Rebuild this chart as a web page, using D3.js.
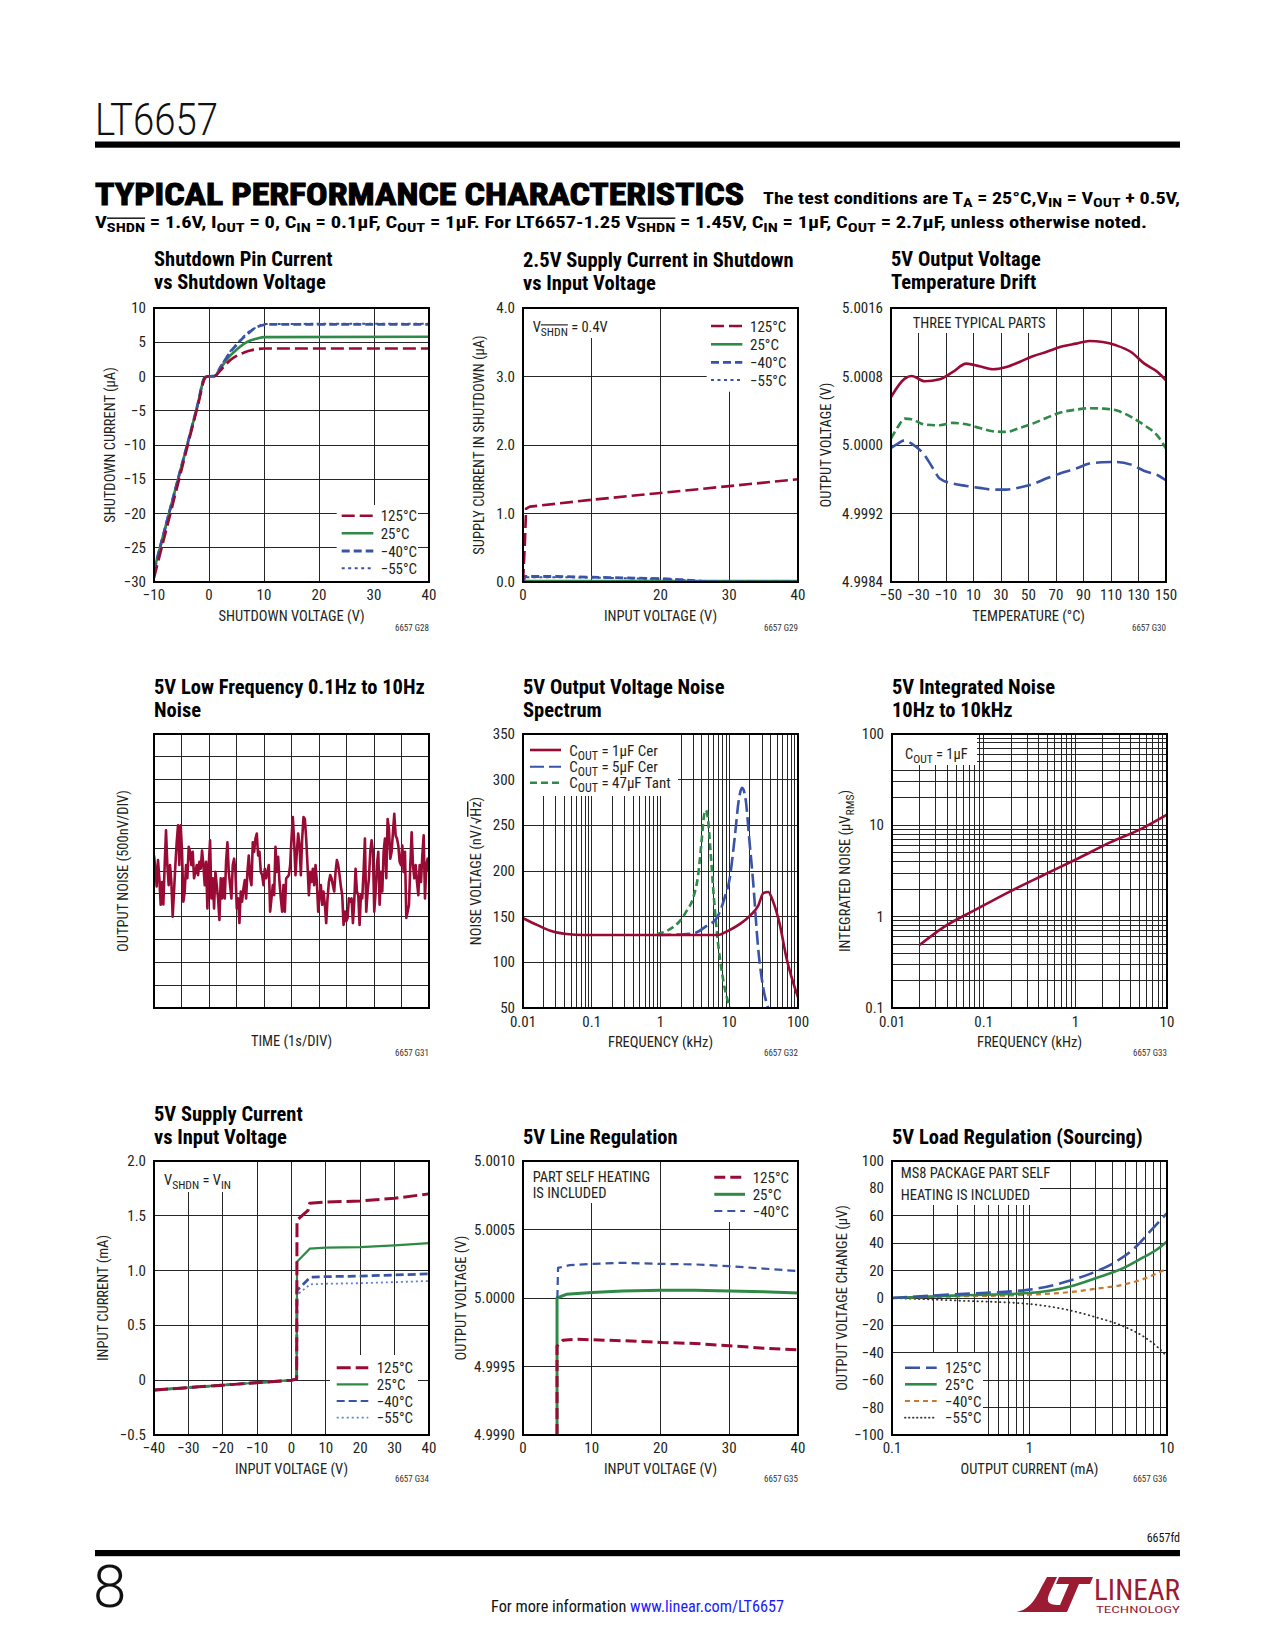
<!DOCTYPE html>
<html>
<head>
<meta charset="utf-8">
<script src="https://cdn.jsdelivr.net/npm/d3@7/dist/d3.min.js"></script>
<style>
html,body{margin:0;padding:0;background:#fff;}
svg{display:block;}
</style>
</head>
<body>
<svg id="page" width="1275" height="1650" xmlns="http://www.w3.org/2000/svg"></svg>
<script>
// ====================== DATA ======================
const tempLabels = ["125°C", "25°C", "−40°C", "−55°C"];

// G28 Shutdown pin current (µA) vs shutdown voltage (V)
const g28XTicks = [-10, 0, 10, 20, 30, 40];
const g28XLabels = ["−10", "0", "10", "20", "30", "40"];
const g28YTicks = [-30, -25, -20, -15, -10, -5, 0, 5, 10];
const g28YLabels = ["−30", "−25", "−20", "−15", "−10", "−5", "0", "5", "10"];
const g28T125 = [[-10,-29.4],[-6,-16.8],[-2,-4.2],[-0.7,-0.2],[-0.3,0],[1,0.05],[2.1,0.9],[3,1.7],[3.9,2.4],[5,3.0],[6.4,3.5],[7.5,3.8],[8.8,4.0],[10,4.08],[40,4.08]];
const g28T25  = [[-10,-28.3],[-6,-16.1],[-2,-3.9],[-0.9,-0.3],[-0.5,0],[1,0.05],[2.1,1.2],[3,2.2],[3.9,3.1],[5,3.9],[6.4,4.8],[7.5,5.25],[8.8,5.55],[10,5.75],[40,5.8]];
const g28TM40 = [[-10,-28.3],[-6,-16.1],[-2,-3.9],[-0.9,-0.3],[-0.5,0],[1,0.05],[2.1,1.4],[3,2.5],[3.9,3.6],[5,4.6],[6.4,5.8],[7.3,6.4],[8.2,7.0],[9.7,7.48],[10.6,7.6],[40,7.62]];
const g28TM55 = [[-10,-28.6],[-6,-16.3],[-2,-4.0],[-0.9,-0.3],[-0.5,0],[1,0.05],[2.1,1.45],[3,2.6],[3.9,3.7],[5,4.7],[6.4,5.9],[7.5,6.7],[8.8,7.23],[10,7.67],[40,7.7]];

// G29 2.5V supply current in shutdown (µA) vs input voltage (V)
const g29XTicks = [0, 20, 30, 40];
const g29XLabels = ["0", "20", "30", "40"];
const g29XGrid = [10, 20, 30];
const g29YTicks = [0, 1, 2, 3, 4];
const g29YLabels = ["0.0", "1.0", "2.0", "3.0", "4.0"];
const g29T125 = [[0,0],[0.25,0.5],[0.45,1.07],[1,1.1],[10,1.2],[20,1.3],[30,1.4],[40,1.5]];
const g29T25  = [[0,0.015],[10,0.015],[20,0.015],[30,0.015],[40,0.015]];
const g29TM40 = [[0,0],[0.3,0.08],[5,0.08],[10,0.07],[15,0.06],[20,0.05],[23,0.035],[26,0.012],[28,0.003],[40,0.003]];
const g29TM55 = [[0,0],[0.3,0.07],[5,0.07],[10,0.065],[15,0.055],[20,0.045],[23,0.03],[26,0.01],[28,0.003],[40,0.003]];

// G30 5V output voltage temperature drift (V) vs temperature (°C)
const g30XTicks = [-50, -30, -10, 10, 30, 50, 70, 90, 110, 130, 150];
const g30XLabels = ["−50", "−30", "−10", "10", "30", "50", "70", "90", "110", "130", "150"];
const g30YTicks = [4.9984, 4.9992, 5.0000, 5.0008, 5.0016];
const g30YLabels = ["4.9984", "4.9992", "5.0000", "5.0008", "5.0016"];
const g30Part1 = [[-50,5.00056],[-40,5.000775],[-35,5.000806],[-25.5,5.000744],[-14.6,5.000767],[-5,5.000853],[4.7,5.00095],[14.4,5.000919],[24.1,5.000884],[33.8,5.000911],[43.5,5.00097],[53.1,5.001036],[62.8,5.001086],[74.9,5.001153],[84.6,5.001184],[94.3,5.001215],[104,5.001203],[113.7,5.001164],[124.6,5.001086],[134.3,5.00095],[143.9,5.000853],[150,5.000756]];
const g30Part2 = [[-50,5.000075],[-45,5.000211],[-40,5.000308],[-35,5.0003],[-25.5,5.000238],[-14.6,5.00023],[-5,5.000258],[4.7,5.000242],[14.4,5.000199],[24.1,5.00016],[33.8,5.000153],[43.5,5.000199],[53.1,5.00025],[62.8,5.000316],[74.9,5.000386],[84.6,5.000413],[94.3,5.000429],[104,5.000425],[113.7,5.000405],[124.6,5.000328],[134.3,5.00023],[143.9,5.000106],[150,4.999958]];
const g30Part3 = [[-50,4.999966],[-45,5.000016],[-40,5.000055],[-35,5.000016],[-25.5,4.99988],[-19.4,4.999725],[-14.6,4.999608],[-5,4.999549],[4.7,4.999522],[14.4,4.999499],[24.1,4.999479],[33.8,4.999479],[43.5,4.999503],[53.1,4.999542],[62.8,4.999608],[74.9,4.999678],[84.6,4.999725],[94.3,4.999783],[104,4.999798],[113.7,4.999802],[124.6,4.999771],[134.3,4.999697],[143.9,4.999647],[150,4.999588]];

// G31 0.1Hz to 10Hz noise, µV samples across 10 s
const g31Noise = [0.34,0.05,-0.34,0.24,-0.16,-0.74,-0.24,-0.73,0.13,0.89,0.13,-0.31,0.13,-0.24,-1.00,-0.45,0.13,0.63,1.00,0.13,1.00,0.42,-0.67,-0.45,0.13,-0.16,0.53,0.42,0.13,0.42,-0.16,-0.02,0.13,-0.09,0.20,0.05,0.45,0.13,-0.31,0.20,-0.82,0.13,0.67,-0.60,-0.16,-0.82,-0.02,-0.31,-0.60,-1.07,-0.16,-0.60,-0.16,-0.60,0.20,0.63,-0.02,-0.31,-0.60,0.13,0.27,-0.02,-0.82,-0.60,-1.14,-0.45,-0.67,-0.38,-0.20,-0.60,-0.02,0.34,-0.16,-0.31,0.63,0.42,0.71,0.82,0.34,0.42,-0.02,-0.09,-0.31,0.05,-0.16,-0.02,0.13,-0.89,-0.60,-0.31,-0.53,0.53,-0.02,0.31,-0.24,-0.60,-0.89,-0.31,-0.89,-0.16,-0.13,-0.09,0.13,0.71,1.18,0.63,-0.09,0.42,0.82,0.56,-0.09,0.71,1.18,1.14,0.71,0.13,-0.53,-0.02,-0.24,0.05,-0.31,0.13,-0.24,-0.89,-0.53,-0.31,-0.74,-0.45,-0.74,-1.14,-0.60,-0.24,-0.09,-0.16,-0.31,-0.45,-0.02,0.24,0.13,-0.09,-0.34,-0.53,-1.18,-0.89,-1.10,-1.03,-0.60,-0.67,-0.60,-1.14,-0.67,0.05,-0.45,-0.53,-1.18,-0.53,-0.60,-0.02,0.71,-0.89,-0.45,-0.16,0.42,0.67,0.42,-0.89,-0.45,0.13,0.42,-0.74,-0.02,-0.45,0.42,0.71,-0.16,1.14,0.92,0.27,0.42,0.85,1.25,0.78,0.71,0.56,0.20,0.13,0.56,-0.02,0.42,-1.03,-0.89,-0.74,0.13,0.85,0.13,-0.16,0.13,-0.24,-0.53,0.13,-0.24,0.34,0.78,-0.60,0.13,0.27,-0.02];

// G32 noise spectrum (nV/√Hz) vs frequency (kHz)
const g32XTicks = [0.01, 0.1, 1, 10, 100];
const g32XLabels = ["0.01", "0.1", "1", "10", "100"];
const g32YTicks = [50, 100, 150, 200, 250, 300, 350];
const g32YLabels = ["50", "100", "150", "200", "250", "300", "350"];
const g32C1 = [[0.01,148.3],[0.016,141],[0.025,134.5],[0.043,131],[0.076,130],[0.2,130],[1,130],[3,130],[6.9,130],[9.6,134.5],[14.2,141.8],[19.9,150.9],[26.3,161.8],[31.5,176],[37,177],[43,167.5],[54.2,141.8],[67.7,105.4],[100,61.7]];
const g32C5 = [[0.9,130],[2,130.5],[3,131.6],[4.7,140],[6.5,148],[8.6,171],[10.2,192.7],[12,236.4],[13.9,280],[15.4,291],[17.2,280],[19.5,236],[22.2,189],[26.3,116],[31.1,72.6],[36.7,50]];
const g32C47 = [[0.89,131],[1.37,136.3],[1.92,145.4],[2.4,156.3],[3,171],[3.54,196.4],[3.96,232.8],[4.32,261.9],[4.57,266.6],[4.94,254.6],[5.34,221.9],[5.97,171],[6.9,120],[8.2,79.9],[10.2,50]];
const g32Legend = ["1µF Cer", "5µF Cer", "47µF Tant"];

// G33 integrated noise (µVrms) vs frequency (kHz)
const g33XTicks = [0.01, 0.1, 1, 10];
const g33XLabels = ["0.01", "0.1", "1", "10"];
const g33YTicks = [0.1, 1, 10, 100];
const g33YLabels = ["0.1", "1", "10", "100"];
const g33Noise = [[0.02,0.49],[0.036,0.76],[0.084,1.21],[0.19,1.87],[0.45,2.86],[1.0,4.2],[2.4,6.5],[5.5,9.4],[10,13.1]];

// G34 5V supply current (mA) vs input voltage (V)
const g34XTicks = [-40, -30, -20, -10, 0, 10, 20, 30, 40];
const g34XLabels = ["−40", "−30", "−20", "−10", "0", "10", "20", "30", "40"];
const g34YTicks = [-0.5, 0, 0.5, 1.0, 1.5, 2.0];
const g34YLabels = ["−0.5", "0", "0.5", "1.0", "1.5", "2.0"];
const g34T125 = [[-40,-0.09],[-20,-0.045],[0,0],[1.5,0.01],[1.6,1.46],[4.8,1.55],[5.3,1.615],[10,1.625],[20,1.635],[30,1.66],[40,1.7]];
const g34T25  = [[-40,-0.09],[-20,-0.045],[0,0],[1.5,0.01],[1.6,1.08],[5.3,1.2],[10,1.21],[20,1.215],[30,1.23],[40,1.25]];
const g34TM40 = [[-40,-0.09],[-20,-0.045],[0,0],[1.5,0.01],[1.6,0.82],[5.5,0.94],[10,0.945],[20,0.95],[30,0.96],[40,0.97]];
const g34TM55 = [[-40,-0.09],[-20,-0.045],[0,0],[1.5,0.01],[1.6,0.78],[5.5,0.875],[10,0.88],[20,0.885],[30,0.895],[40,0.905]];

// G35 5V line regulation (V) vs input voltage (V)
const g35XTicks = [0, 10, 20, 30, 40];
const g35XLabels = ["0", "10", "20", "30", "40"];
const g35YTicks = [4.9990, 4.9995, 5.0000, 5.0005, 5.0010];
const g35YLabels = ["4.9990", "4.9995", "5.0000", "5.0005", "5.0010"];
const g35T125 = [[4.95,4.999],[4.95,4.99965],[5.8,4.999692],[7.8,4.9997],[10,4.999695],[14.5,4.999688],[20,4.999676],[25,4.999668],[30,4.999651],[35,4.999634],[40,4.999622]];
const g35T25  = [[4.95,4.999],[4.95,5.0],[6.3,5.000027],[10,5.000041],[14.5,5.000051],[20,5.000056],[25,5.000056],[30,5.000051],[35,5.000046],[40,5.000036]];
const g35TM40 = [[5.0,5.0],[5.1,5.00022],[6.8,5.00024],[10,5.000249],[14.5,5.000257],[20,5.000249],[25,5.000245],[30,5.000232],[35,5.000215],[40,5.000196]];

// G36 5V load regulation (µV) vs output current (mA)
const g36XTicks = [0.1, 1, 10];
const g36XLabels = ["0.1", "1", "10"];
const g36YTicks = [-100, -80, -60, -40, -20, 0, 20, 40, 60, 80, 100];
const g36YLabels = ["−100", "−80", "−60", "−40", "−20", "0", "20", "40", "60", "80", "100"];
const g36T125 = [[0.1,0],[0.31,2.9],[1,6.1],[2,12.9],[3.06,19.4],[4.28,26.7],[5.97,37.6],[7.5,48.5],[10,61.9]];
const g36T25  = [[0.1,0],[0.31,1.9],[1,3.6],[2,8.5],[3.06,14.6],[4.8,21.8],[6.7,29.6],[8.4,35.2],[10,41.3]];
const g36TM40 = [[0.1,0],[0.31,1.2],[1,2.4],[2,4.4],[3.06,6.8],[4.8,9.7],[6.7,13.8],[10,21.4]];
const g36TM55 = [[0.1,0],[0.31,-1.9],[1,-4.4],[2,-9.2],[3.06,-14.1],[4.8,-20.6],[6.7,-27.9],[8.4,-35.2],[10,-42.5]];

// ====================== DRAWING ======================
const svg = d3.select("#page");
const FONT = "'Liberation Sans Narrow','Arial Narrow','Nimbus Sans Narrow','Roboto Condensed','Liberation Sans',Arial,sans-serif";
svg.attr("font-family", FONT);
const W = 275, H = 274;
const COLS = [154, 523, 892];
const ROWS = [308, 734, 1161];
const RED = "#990a35", GREEN = "#2e8a46", BLUE = "#3953a6", LBLUE = "#5b82d9", ORANGE = "#c8782f";
const GRID = "#262626", INK = "#231f20";

const ST = {
  r125: {c: RED, w: 2.6, d: "13,5"},
  g25:  {c: GREEN, w: 2.6, d: null},
  b40:  {c: BLUE, w: 2.8, d: "8,4"},
  b55:  {c: BLUE, w: 2, d: "3,3.5"},
  lb55: {c: LBLUE, w: 1.8, d: "2,3"},
  rSol: {c: RED, w: 2.6, d: null},
  gDsh: {c: GREEN, w: 2.6, d: "8,4"},
  bLng: {c: BLUE, w: 2.6, d: "15,6"},
  bMid: {c: BLUE, w: 2.2, d: "8,5"},
  o40:  {c: ORANGE, w: 2.2, d: "5,4"},
  k55:  {c: "#333", w: 1.8, d: "0.5,4", cap: "round"},
  r8:   {c: RED, w: 3, d: "11,5"},
  g8:   {c: GREEN, w: 3, d: null}
};

function rich(t, parts, fs, shift) {
  let cur = 0;
  const sh = shift != null ? shift : Math.round(fs * 0.28);
  parts.forEach(p => {
    const s = typeof p === "string" ? p : p[0];
    const k = typeof p === "string" ? "" : p[1];
    const sub = k === "sub" || k === "subo";
    const target = sub ? sh : 0;
    const ts = t.append("tspan").text(s);
    if (target !== cur) ts.attr("dy", target - cur);
    cur = target;
    if (sub) ts.attr("font-size", (fs * 0.8).toFixed(1));
    if (k === "o" || k === "subo") ts.attr("text-decoration", "overline");
  });
}

function styleLine(sel, st) {
  sel.attr("fill", "none").attr("stroke", st.c).attr("stroke-width", st.w)
     .attr("stroke-dasharray", st.d).attr("stroke-linecap", st.cap || "butt")
     .attr("stroke-linejoin", "round");
}

let clipN = 0;
function drawChart(c) {
  const g = svg.append("g").attr("transform", `translate(${c.left},${c.top})`);
  const x = c.x.range([0, W]);
  const y = c.y.range([H, 0]);

  // titles
  c.title.forEach((t, i) => {
    g.append("text").attr("x", 0).attr("y", c.titleY[i] - c.top)
      .attr("font-size", 20.5).attr("font-weight", "bold").attr("fill", "#000").text(t);
  });

  // grid
  const gg = g.append("g").attr("stroke", GRID).attr("stroke-width", 1).attr("shape-rendering", "crispEdges");
  gg.selectAll("line.gx").data(c.xGrid.filter(v => x(v) > 1 && x(v) < W - 1)).join("line").attr("class", "gx")
    .attr("x1", d => x(d)).attr("x2", d => x(d)).attr("y1", 0).attr("y2", H);
  gg.selectAll("line.gy").data(c.yGrid.filter(v => y(v) > 1 && y(v) < H - 1)).join("line").attr("class", "gy")
    .attr("y1", d => y(d)).attr("y2", d => y(d)).attr("x1", 0).attr("x2", W);

  // white boxes behind notes and legends
  (c.masks || []).forEach(m => g.append("rect").attr("x", m[0]).attr("y", m[1]).attr("width", m[2]).attr("height", m[3]).attr("fill", "#fff"));

  // series
  const cid = "clip" + (clipN++);
  g.append("clipPath").attr("id", cid).append("rect").attr("x", -1).attr("y", -1).attr("width", W + 2).attr("height", H + 2);
  const sg = g.append("g").attr("clip-path", `url(#${cid})`);
  c.series.forEach(s => {
    const line = d3.line().x(d => x(d[0])).y(d => y(d[1])).curve(s.curve || d3.curveLinear);
    styleLine(sg.append("path").datum(s.data).attr("d", line), s.st);
  });

  // frame
  g.append("rect").attr("width", W).attr("height", H).attr("fill", "none").attr("stroke", "#000").attr("stroke-width", 2);

  // tick labels
  if (c.xTicks) {
    g.selectAll("text.xt").data(c.xTicks).join("text").attr("class", "xt")
      .attr("x", d => x(d)).attr("y", H + (c.xTickDY || 18)).attr("text-anchor", "middle")
      .attr("font-size", 15).attr("fill", INK).text((d, i) => c.xTickLabels[i]);
  }
  if (c.yTicks) {
    g.selectAll("text.yt").data(c.yTicks).join("text").attr("class", "yt")
      .attr("x", -8).attr("y", d => y(d) + 5).attr("text-anchor", "end")
      .attr("font-size", 15).attr("fill", INK).text((d, i) => c.yTickLabels[i]);
  }

  // axis titles
  const xt = g.append("text").attr("x", W / 2).attr("y", H + (c.xTitleDY || 39)).attr("text-anchor", "middle")
    .attr("font-size", 14.5).attr("fill", INK);
  rich(xt, c.xTitle, 14.5);
  const yt = g.append("text").attr("transform", `translate(${c.yTitleX},${H / 2}) rotate(-90)`)
    .attr("text-anchor", "middle").attr("font-size", 14.5).attr("fill", INK);
  rich(yt, c.yTitle, 14.5);

  // chart id
  g.append("text").attr("x", W).attr("y", H + (c.idDY || 49)).attr("text-anchor", "end")
    .attr("font-size", 9).attr("fill", "#333").text(c.id);

  // notes
  (c.notes || []).forEach(n => {
    const t = g.append("text").attr("x", n.x).attr("y", n.y).attr("font-size", 14.5).attr("fill", INK);
    rich(t, n.parts, 14.5);
  });

  // legend
  if (c.legend) {
    const L = c.legend;
    L.items.forEach((it, i) => {
      const yy = L.rows[i];
      styleLine(g.append("line").attr("x1", L.x1).attr("x2", L.x2).attr("y1", yy).attr("y2", yy), it.st);
      const t = g.append("text").attr("x", L.tx).attr("y", yy + 5.5).attr("font-size", 15).attr("fill", INK);
      rich(t, it.label, 15);
    });
  }
}

// ---------- Chart G28 ----------
drawChart({
  left: COLS[0], top: ROWS[0],
  title: ["Shutdown Pin Current", "vs Shutdown Voltage"], titleY: [266, 289],
  x: d3.scaleLinear().domain([-10, 40]), y: d3.scaleLinear().domain([-30, 10]),
  xGrid: g28XTicks, yGrid: g28YTicks,
  xTicks: g28XTicks, xTickLabels: g28XLabels, yTicks: g28YTicks, yTickLabels: g28YLabels,
  xTitle: ["SHUTDOWN VOLTAGE (V)"], yTitle: ["SHUTDOWN CURRENT (µA)"], yTitleX: -39,
  id: "6657 G28",
  masks: [[182.7, 197, 81.3, 77]],
  series: [
    {data: g28TM55, st: ST.b55, curve: d3.curveMonotoneX},
    {data: g28T25, st: ST.g25, curve: d3.curveMonotoneX},
    {data: g28TM40, st: ST.b40, curve: d3.curveMonotoneX},
    {data: g28T125, st: ST.r125, curve: d3.curveMonotoneX}
  ],
  legend: {rows: [207.7, 225.3, 243, 260.3], x1: 187.7, x2: 219.3, tx: 226.7,
    items: [{label: [tempLabels[0]], st: ST.r125}, {label: [tempLabels[1]], st: ST.g25},
            {label: [tempLabels[2]], st: ST.b40}, {label: [tempLabels[3]], st: ST.b55}]}
});

// ---------- Chart G29 ----------
drawChart({
  left: COLS[1], top: ROWS[0],
  title: ["2.5V Supply Current in Shutdown", "vs Input Voltage"], titleY: [267, 290],
  x: d3.scaleLinear().domain([0, 40]), y: d3.scaleLinear().domain([0, 4]),
  xGrid: g29XGrid, yGrid: g29YTicks,
  xTicks: g29XTicks, xTickLabels: g29XLabels, yTicks: g29YTicks, yTickLabels: g29YLabels,
  xTitle: ["INPUT VOLTAGE (V)"], yTitle: ["SUPPLY CURRENT IN SHUTDOWN (µA)"], yTitleX: -39,
  id: "6657 G29",
  masks: [[0, 0, 97, 30], [183.7, 0, 91.3, 83.7]],
  notes: [{x: 9.7, y: 24.3, parts: ["V", ["SHDN", "subo"], " = 0.4V"]}],
  series: [
    {data: g29T25, st: ST.g25},
    {data: g29TM55, st: ST.b55},
    {data: g29TM40, st: ST.b40},
    {data: g29T125, st: ST.r125}
  ],
  legend: {rows: [18, 36.3, 54.3, 72], x1: 188, x2: 219.3, tx: 227,
    items: [{label: [tempLabels[0]], st: ST.r125}, {label: [tempLabels[1]], st: ST.g25},
            {label: [tempLabels[2]], st: ST.b40}, {label: [tempLabels[3]], st: ST.b55}]}
});

// ---------- Chart G30 ----------
drawChart({
  left: COLS[2] - 1, top: ROWS[0],
  title: ["5V Output Voltage", "Temperature Drift"], titleY: [266, 289],
  x: d3.scaleLinear().domain([-50, 150]), y: d3.scaleLinear().domain([4.9984, 5.0016]),
  xGrid: g30XTicks, yGrid: g30YTicks,
  xTicks: g30XTicks, xTickLabels: g30XLabels, yTicks: g30YTicks, yTickLabels: g30YLabels,
  xTitle: ["TEMPERATURE (°C)"], yTitle: ["OUTPUT VOLTAGE (V)"], yTitleX: -60,
  id: "6657 G30",
  masks: [[0, 0, 157, 25]],
  notes: [{x: 21.7, y: 20.3, parts: ["THREE TYPICAL PARTS"]}],
  series: [
    {data: g30Part3, st: ST.bLng, curve: d3.curveMonotoneX},
    {data: g30Part2, st: ST.gDsh, curve: d3.curveMonotoneX},
    {data: g30Part1, st: ST.rSol, curve: d3.curveMonotoneX}
  ]
});

// ---------- Chart G31 ----------
const g31Time = g31Noise.map((v, i) => [i / (g31Noise.length - 1) * 10, v]);
drawChart({
  left: COLS[0], top: ROWS[1],
  title: ["5V Low Frequency 0.1Hz to 10Hz", "Noise"], titleY: [694, 717],
  x: d3.scaleLinear().domain([0, 10]), y: d3.scaleLinear().domain([-3, 3]),
  xGrid: d3.range(0, 11, 1), yGrid: d3.range(-3, 3.01, 0.5),
  xTitle: ["TIME (1s/DIV)"], xTitleDY: 38, yTitle: ["OUTPUT NOISE (500nV/DIV)"], yTitleX: -26,
  id: "6657 G31", idDY: 48,
  series: [{data: g31Time, st: {c: RED, w: 2.6, d: null}}]
});

// ---------- Chart G32 ----------
const x32 = d3.scaleLog().domain([0.01, 100]);
drawChart({
  left: COLS[1], top: ROWS[1],
  title: ["5V Output Voltage Noise", "Spectrum"], titleY: [694, 717],
  x: x32, y: d3.scaleLinear().domain([50, 350]),
  xGrid: x32.ticks(), yGrid: g32YTicks,
  xTicks: g32XTicks, xTickLabels: g32XLabels, yTicks: g32YTicks, yTickLabels: g32YLabels, xTickDY: 19,
  xTitle: ["FREQUENCY (kHz)"], yTitle: ["NOISE VOLTAGE (nV/√", ["Hz", "o"], ")"], yTitleX: -42,
  id: "6657 G32", idDY: 48,
  masks: [[0, 0, 155, 62]],
  series: [
    {data: g32C47, st: {c: GREEN, w: 2.6, d: "7,4"}, curve: d3.curveMonotoneX},
    {data: g32C5, st: {c: BLUE, w: 2.6, d: "14,5"}, curve: d3.curveMonotoneX},
    {data: g32C1, st: ST.rSol, curve: d3.curveMonotoneX}
  ],
  legend: {rows: [16, 32.7, 48.7], x1: 7, x2: 38, tx: 46.3,
    items: [{label: ["C", ["OUT", "sub"], " = " + g32Legend[0]], st: ST.rSol},
            {label: ["C", ["OUT", "sub"], " = " + g32Legend[1]], st: {c: BLUE, w: 2, d: "14,5"}},
            {label: ["C", ["OUT", "sub"], " = " + g32Legend[2]], st: {c: GREEN, w: 2.6, d: "7,4"}}]}
});

// ---------- Chart G33 ----------
const x33 = d3.scaleLog().domain([0.01, 10]);
const y33 = d3.scaleLog().domain([0.1, 100]);
drawChart({
  left: COLS[2], top: ROWS[1],
  title: ["5V Integrated Noise", "10Hz to 10kHz"], titleY: [694, 717],
  x: x33, y: y33,
  xGrid: x33.ticks(), yGrid: y33.ticks(),
  xTicks: g33XTicks, xTickLabels: g33XLabels, yTicks: g33YTicks, yTickLabels: g33YLabels, xTickDY: 19,
  xTitle: ["FREQUENCY (kHz)"], yTitle: ["INTEGRATED NOISE (µV", ["RMS", "sub"], ")"], yTitleX: -42,
  id: "6657 G33", idDY: 48,
  masks: [[0, 0, 85, 31]],
  notes: [{x: 13, y: 25, parts: ["C", ["OUT", "sub"], " = 1µF"]}],
  series: [{data: g33Noise, st: ST.rSol, curve: d3.curveMonotoneX}]
});

// ---------- Chart G34 ----------
drawChart({
  left: COLS[0], top: ROWS[2],
  title: ["5V Supply Current", "vs Input Voltage"], titleY: [1121, 1144],
  x: d3.scaleLinear().domain([-40, 40]), y: d3.scaleLinear().domain([-0.5, 2.0]),
  xGrid: g34XTicks, yGrid: g34YTicks,
  xTicks: g34XTicks, xTickLabels: g34XLabels, yTicks: g34YTicks, yTickLabels: g34YLabels,
  xTitle: ["INPUT VOLTAGE (V)"], yTitle: ["INPUT CURRENT (mA)"], yTitleX: -46,
  id: "6657 G34", idDY: 47,
  masks: [[0, 0, 86, 31], [176, 194, 88, 80]],
  notes: [{x: 10, y: 24, parts: ["V", ["SHDN", "sub"], " = V", ["IN", "sub"]]}],
  series: [
    {data: g34TM55, st: ST.lb55},
    {data: g34TM40, st: ST.b40},
    {data: g34T25, st: {c: GREEN, w: 2.2, d: null}},
    {data: g34T125, st: {c: RED, w: 3, d: "14,5"}}
  ],
  legend: {rows: [206.7, 223.3, 240, 256.7], x1: 182.7, x2: 214.3, tx: 222.7,
    items: [{label: [tempLabels[0]], st: {c: RED, w: 3, d: "14,5"}}, {label: [tempLabels[1]], st: {c: GREEN, w: 2.2, d: null}},
            {label: [tempLabels[2]], st: {c: BLUE, w: 2.2, d: "8,4"}}, {label: [tempLabels[3]], st: ST.lb55}]}
});

// ---------- Chart G35 ----------
drawChart({
  left: COLS[1], top: ROWS[2],
  title: ["5V Line Regulation"], titleY: [1144],
  x: d3.scaleLinear().domain([0, 40]), y: d3.scaleLinear().domain([4.9990, 5.0010]),
  xGrid: g35XTicks, yGrid: g35YTicks,
  xTicks: g35XTicks, xTickLabels: g35XLabels, yTicks: g35YTicks, yTickLabels: g35YLabels,
  xTitle: ["INPUT VOLTAGE (V)"], yTitle: ["OUTPUT VOLTAGE (V)"], yTitleX: -57,
  id: "6657 G35", idDY: 47,
  masks: [[0, 0, 132, 42], [187, 0, 88, 61]],
  notes: [{x: 9.7, y: 21.3, parts: ["PART SELF HEATING"]}, {x: 9.7, y: 37.3, parts: ["IS INCLUDED"]}],
  series: [
    {data: g35T25, st: ST.g8},
    {data: g35TM40, st: ST.bMid},
    {data: g35T125, st: ST.r8}
  ],
  legend: {rows: [16.3, 33.3, 50], x1: 191.3, x2: 222, tx: 229.7,
    items: [{label: [tempLabels[0]], st: ST.r8}, {label: [tempLabels[1]], st: ST.g8},
            {label: [tempLabels[2]], st: ST.bMid}]}
});

// ---------- Chart G36 ----------
const x36 = d3.scaleLog().domain([0.1, 10]);
drawChart({
  left: COLS[2], top: ROWS[2],
  title: ["5V Load Regulation (Sourcing)"], titleY: [1144],
  x: x36, y: d3.scaleLinear().domain([-100, 100]),
  xGrid: x36.ticks(), yGrid: g36YTicks,
  xTicks: g36XTicks, xTickLabels: g36XLabels, yTicks: g36YTicks, yTickLabels: g36YLabels,
  xTitle: ["OUTPUT CURRENT (mA)"], yTitle: ["OUTPUT VOLTAGE CHANGE (µV)"], yTitleX: -45,
  id: "6657 G36", idDY: 47,
  masks: [[0, 0, 166, 26], [0, 26, 148, 18], [0, 192, 91, 82]],
  notes: [{x: 8.7, y: 17.3, parts: ["MS8 PACKAGE PART SELF"]}, {x: 8.7, y: 39, parts: ["HEATING IS INCLUDED"]}],
  series: [
    {data: g36TM55, st: ST.k55, curve: d3.curveMonotoneX},
    {data: g36TM40, st: ST.o40, curve: d3.curveMonotoneX},
    {data: g36T25, st: ST.g25, curve: d3.curveMonotoneX},
    {data: g36T125, st: ST.bLng, curve: d3.curveMonotoneX}
  ],
  legend: {rows: [206.7, 223.3, 240, 256.7], x1: 13, x2: 44.7, tx: 53,
    items: [{label: [tempLabels[0]], st: ST.bLng}, {label: [tempLabels[1]], st: ST.g25},
            {label: [tempLabels[2]], st: ST.o40}, {label: [tempLabels[3]], st: {c: "#333", w: 1.8, d: "0.5,3.5", cap: "round"}}]}
});

// ====================== PAGE FURNITURE ======================
svg.append("text").attr("x", 95).attr("y", 135).attr("font-family", "Roboto,'Liberation Sans',sans-serif")
  .attr("font-weight", 300).attr("font-size", 44).attr("fill", "#111")
  .attr("textLength", 123).attr("lengthAdjust", "spacingAndGlyphs").text("LT6657");
svg.append("rect").attr("x", 95).attr("y", 141.5).attr("width", 1085).attr("height", 6.2).attr("fill", "#000");

svg.append("text").attr("x", 95).attr("y", 205)
  .attr("font-size", 32).attr("font-weight", "bold").attr("fill", "#000")
  .attr("stroke", "#000").attr("stroke-width", 1.1)
  .attr("textLength", 649).attr("lengthAdjust", "spacingAndGlyphs").text("TYPICAL PERFORMANCE CHARACTERISTICS");

const cond1 = svg.append("text").attr("x", 763).attr("y", 203.5).attr("font-size", 17).attr("font-weight", "bold")
  .attr("fill", "#000").attr("textLength", 417).attr("lengthAdjust", "spacingAndGlyphs");
rich(cond1, ["The test conditions are T", ["A", "sub"], " = 25°C,V", ["IN", "sub"], " = V", ["OUT", "sub"], " + 0.5V,"], 17, 3.5);
const cond2 = svg.append("text").attr("x", 95).attr("y", 228).attr("font-size", 17).attr("font-weight", "bold")
  .attr("fill", "#000").attr("textLength", 1052).attr("lengthAdjust", "spacingAndGlyphs");
rich(cond2, ["V", ["SHDN", "subo"], " = 1.6V, I", ["OUT", "sub"], " = 0, C", ["IN", "sub"], " = 0.1µF, C", ["OUT", "sub"],
  " = 1µF. For LT6657-1.25 V", ["SHDN", "subo"], " = 1.45V, C", ["IN", "sub"], " = 1µF, C", ["OUT", "sub"],
  " = 2.7µF, unless otherwise noted."], 17, 3.5);

// footer
svg.append("text").attr("x", 1180).attr("y", 1542).attr("text-anchor", "end").attr("font-size", 12).attr("fill", "#111").text("6657fd");
svg.append("rect").attr("x", 95).attr("y", 1550).attr("width", 1085).attr("height", 6.2).attr("fill", "#000");
svg.append("text").attr("x", 93).attr("y", 1607).attr("font-family", "Roboto,'Liberation Sans',sans-serif")
  .attr("font-weight", 300).attr("font-size", 60).attr("fill", "#111").text("8");
const foot = svg.append("text").attr("x", 491).attr("y", 1612).attr("font-size", 16).attr("fill", "#111")
  .attr("textLength", 293).attr("lengthAdjust", "spacingAndGlyphs");
foot.append("tspan").text("For more information ");
foot.append("tspan").attr("fill", "#1a1aff").text("www.linear.com/LT6657");

// Linear Technology logo (approximation)
const LOGO = "#9b1b33";
svg.append("path").attr("fill", LOGO)
  .attr("d", "M1016,1612 C1030,1610 1036,1598 1042,1586 L1047,1577 L1057,1577 L1050,1592 C1046,1601 1047,1605 1059,1605 L1064,1605 L1061,1612 Z");
svg.append("path").attr("fill", LOGO)
  .attr("d", "M1059,1577 L1093,1577 L1090,1584 L1079,1584 L1067,1612 L1057,1612 L1069,1584 L1056,1584 Z");
svg.append("text").attr("x", 1094).attr("y", 1600).attr("font-size", 30).attr("fill", LOGO)
  .attr("textLength", 86).attr("lengthAdjust", "spacingAndGlyphs").text("LINEAR");
svg.append("text").attr("x", 1096).attr("y", 1613).attr("font-size", 9.5).attr("fill", LOGO)
  .attr("textLength", 84).attr("lengthAdjust", "spacingAndGlyphs").text("TECHNOLOGY");
</script>
</body>
</html>
